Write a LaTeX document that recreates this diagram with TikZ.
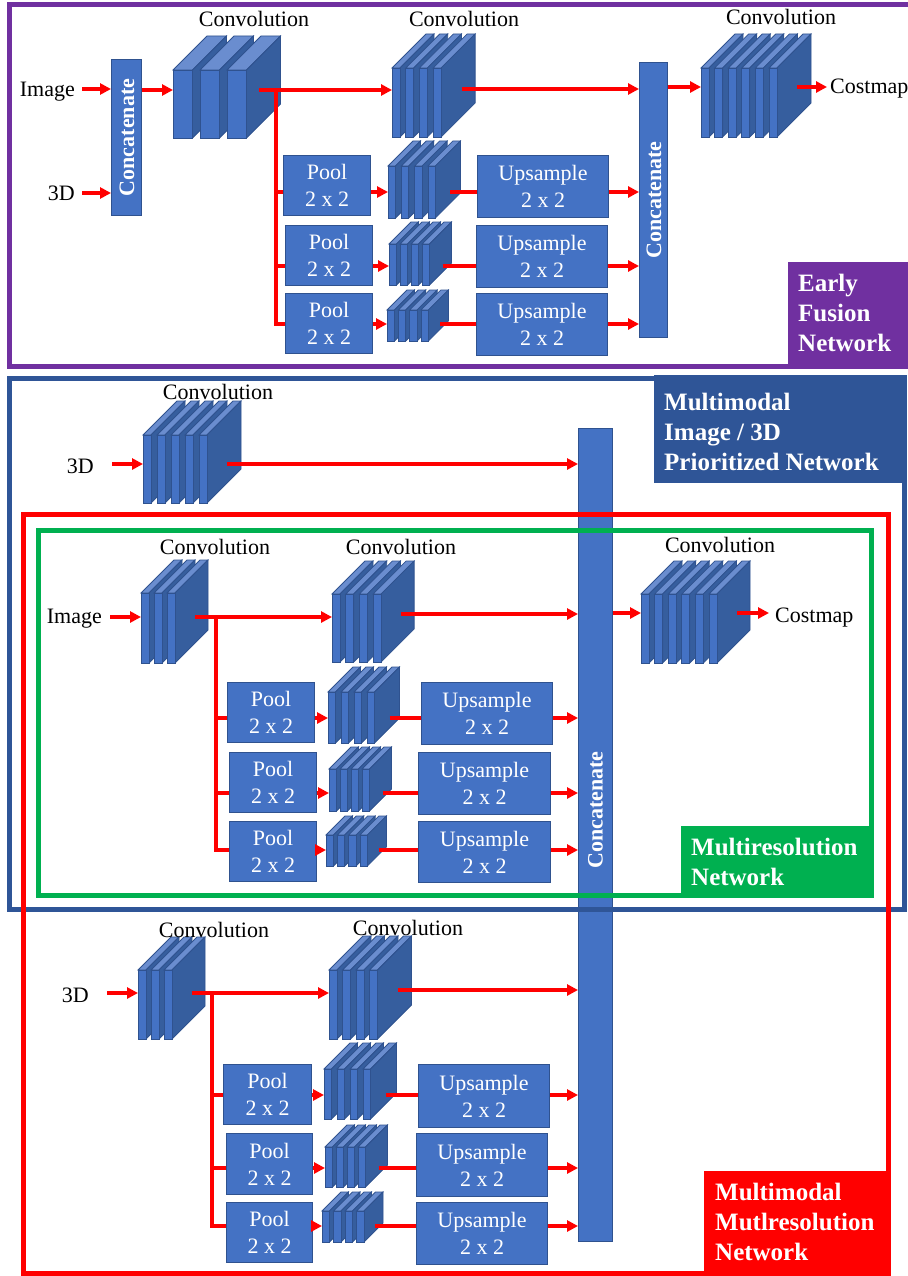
\documentclass[tikz,border=0pt]{standalone}
\usepackage{fontspec}
\setmainfont{Liberation Serif}
\usetikzlibrary{arrows.meta}

\definecolor{boxblue}{HTML}{4472C4}
\definecolor{boxedge}{HTML}{2F528F}
\definecolor{slabtopc}{HTML}{6A8DCF}
\definecolor{slabsidec}{HTML}{365E9E}
\definecolor{netblue}{HTML}{2F5597}
\definecolor{netpurple}{HTML}{7030A0}
\definecolor{netgreen}{HTML}{00B050}
\definecolor{netred}{HTML}{FF0000}

% A stack of feature-map slabs drawn in oblique projection.
% #1 name, #2 x of first front face, #3 top of front faces, #4 number of slabs,
% #5 slab width, #6 pitch, #7 slab height, #8 depth, #9 y of the in/out ports
\newcommand\convstack[9]{%
  \foreach \k in {1,...,#4}{%
    \pgfmathsetmacro\xa{#2+(\k-1)*#6}%
    \filldraw[slabtop] (\xa,#3) -- ++(#8,-#8) -- ++(#5,0) -- ++(-#8,#8) -- cycle;
    \filldraw[slabside] (\xa+#5,#3) -- ++(#8,-#8) -- ++(0,#7) -- ++(-#8,#8) -- cycle;
    \filldraw[slabfront] (\xa,#3) rectangle ++(#5,#7);
  }%
  \pgfmathsetmacro\xo{#2+(#4-1)*#6+#5+0.6*#8}%
  \coordinate (#1 in) at (#2,#9);
  \coordinate (#1 out) at (\xo,#9);
}

\begin{document}
\begin{tikzpicture}[x=1pt,y=-1pt,
  slabfront/.style={fill=boxblue,draw=boxedge,line width=0.8pt},
  slabtop/.style={fill=slabtopc,draw=boxedge,line width=0.8pt},
  slabside/.style={fill=slabsidec,draw=boxedge,line width=0.8pt},
  lab/.style={font=\fontsize{22}{27}\selectfont,inner sep=0pt,text height=15pt,text depth=0pt},
  opbox/.style={draw=boxedge,fill=boxblue,line width=1pt,text=white,align=center,
    inner sep=0pt,anchor=north west,font=\fontsize{22}{27}\selectfont},
  catbar/.style={draw=boxedge,fill=boxblue,line width=1pt,anchor=north west,inner sep=0pt},
  cattext/.style={text=white,font=\bfseries\fontsize{22}{27}\selectfont,rotate=90,
    inner sep=0pt,text height=15pt,text depth=0pt},
  netlabel/.style={text=white,font=\bfseries\fontsize{25}{30}\selectfont,align=left,
    anchor=north west,inner sep=0pt},
  frame/.style={line width=5pt},
  conn/.style={netred,line width=3.4pt},
  arr/.style={conn,-{Triangle[length=11pt,width=11pt]}}]

\useasboundingbox (0,0) rectangle (907,1276);
\fill[white] (0,0) rectangle (907,1276);

% shared concatenation bar of the lower networks
\node[catbar,minimum width=34,minimum height=813] (bigcat) at (578,428) {};
\node[cattext] (bigcattxt) at (595,810) {Concatenate};

% network frames
\draw[frame,netblue] (9.5,378) rectangle (904,909.5);
\draw[frame,netred] (23.5,514.5) rectangle (888,1273.5);
\draw[frame,netgreen] (38.5,530) rectangle (871.5,895.5);
\draw[frame,netpurple] (9.5,5) rectangle (915,366.5);

% network tags
\fill[netpurple] (788,262) rectangle (912,369);
\node[netlabel] (tagEF) at (798,274) {Early\\Fusion\\Network};
\fill[netblue] (654,375) rectangle (907,483);
\node[netlabel] (tagMP) at (664,393) {Multimodal\\Image / 3D\\Prioritized Network};
\fill[netgreen] (681,826) rectangle (874,898);
\node[netlabel] (tagMR) at (691,838) {Multiresolution\\Network};
\fill[netred] (704,1171) rectangle (891,1276);
\node[netlabel] (tagMM) at (715,1183) {Multimodal\\Mutlresolution\\Network};

% ---------------- early fusion network ----------------
\node[catbar,minimum width=30,minimum height=156] (cat1) at (111,59) {};
\node[cattext] at (cat1.center) {Concatenate};
\node[catbar,minimum width=28,minimum height=275] (cat2) at (639,62) {};
\node[cattext] at (cat2.center) {Concatenate};

\convstack{t1}{173}{70}{3}{19.5}{27}{68}{34}{90}
\convstack{t2}{392}{68}{4}{8}{13.7}{69}{34}{89}
\convstack{t3}{701}{68}{6}{8}{13.6}{69}{34}{87}
\convstack{ts1}{388}{166}{4}{7.5}{13.3}{52}{25}{192}
\convstack{ts2}{389}{244}{4}{7.5}{11}{41}{22}{266}
\convstack{ts3}{387}{310}{4}{7.5}{11.3}{31}{20}{324}
\coordinate (t1 out) at (259,90);

\node[lab] (ct1) at (254,19) {Convolution};
\node[lab] (ct2) at (464,19) {Convolution};
\node[lab] (ct3) at (781,17) {Convolution};

\node[opbox,minimum width=87,minimum height=60] (tp1) at (283,155) {Pool\\2 x 2};
\node[opbox,minimum width=87,minimum height=60] (tp2) at (285,225) {Pool\\2 x 2};
\node[opbox,minimum width=87,minimum height=60] (tp3) at (285,293) {Pool\\2 x 2};
\node[opbox,minimum width=131,minimum height=62] (tu1) at (477,155) {Upsample\\2 x 2};
\node[opbox,minimum width=131,minimum height=62] (tu2) at (476,225) {Upsample\\2 x 2};
\node[opbox,minimum width=131,minimum height=62] (tu3) at (476,293) {Upsample\\2 x 2};

\node[lab,anchor=east] (imgT) at (75,89) {Image};
\node[lab,anchor=east] (d3T) at (75,193) {3D};
\node[lab,anchor=west] (costT) at (830,86) {Costmap};

\draw[arr] ([xshift=7pt]imgT.east) -- (imgT.east -| cat1.west);
\draw[arr] ([xshift=7pt]d3T.east) -- (d3T.east -| cat1.west);
\draw[arr] (cat1.east |- t1 in) -- (t1 in);
\draw[arr] (t1 out) -- (t1 out -| t2 in);
\coordinate (tb) at (276,90);
\draw[conn] (tb) |- (tp3.west |- ts3 in);
\draw[conn] (tb |- ts1 in) -- (tp1.west |- ts1 in);
\draw[conn] (tb |- ts2 in) -- (tp2.west |- ts2 in);
\draw[arr] (tp1.east |- ts1 in) -- (ts1 in);
\draw[arr] (tp2.east |- ts2 in) -- (ts2 in);
\draw[arr] (tp3.east |- ts3 in) -- (ts3 in);
\draw[conn] (ts1 out) -- (ts1 out -| tu1.west);
\draw[conn] (ts2 out) -- (ts2 out -| tu2.west);
\draw[conn] (ts3 out) -- (ts3 out -| tu3.west);
\draw[arr] (tu1.east |- ts1 out) -- (cat2.west |- ts1 out);
\draw[arr] (tu2.east |- ts2 out) -- (cat2.west |- ts2 out);
\draw[arr] (tu3.east |- ts3 out) -- (cat2.west |- ts3 out);
\draw[arr] (t2 out) -- (t2 out -| cat2.west);
\draw[arr] (cat2.east |- t3 in) -- (t3 in);
\draw[arr] (t3 out) -- ([xshift=-3pt]costT.west |- t3 out);

% ---------------- 3D branch of the prioritized network ----------------
\convstack{m0}{143}{435}{5}{8}{14}{68}{34}{464}
\node[lab] (cm0) at (218,392) {Convolution};
\node[lab,anchor=east] (d3M) at (94,466) {3D};
\draw[arr] ([xshift=-31pt]m0 in) -- (m0 in);
\draw[arr] (m0 out) -- (m0 out -| bigcat.west);

% ---------------- image multiresolution branch ----------------
\convstack{mA}{141}{593}{3}{8}{13}{70}{33}{617}
\convstack{mB}{332}{594}{4}{8}{13.7}{68}{33}{614}
\convstack{mC}{641}{594}{6}{8}{13.6}{69}{33}{613}
\convstack{ms1}{328}{692}{4}{7.5}{13}{51}{25}{718}
\convstack{ms2}{329}{769}{4}{7.5}{11}{42}{22}{793}
\convstack{ms3}{326}{835}{4}{7.5}{11.3}{31}{19}{850}

\node[lab] (cmA) at (215,547) {Convolution};
\node[lab] (cmB) at (401,547) {Convolution};
\node[lab] (cmC) at (720,545) {Convolution};

\node[opbox,minimum width=87,minimum height=60] (mp1) at (227,682) {Pool\\2 x 2};
\node[opbox,minimum width=87,minimum height=60] (mp2) at (229,752) {Pool\\2 x 2};
\node[opbox,minimum width=87,minimum height=60] (mp3) at (229,821) {Pool\\2 x 2};
\node[opbox,minimum width=131,minimum height=62] (mu1) at (421,682) {Upsample\\2 x 2};
\node[opbox,minimum width=132,minimum height=62] (mu2) at (418,752) {Upsample\\2 x 2};
\node[opbox,minimum width=132,minimum height=61] (mu3) at (418,821) {Upsample\\2 x 2};

\node[lab,anchor=east] (imgM) at (102,616) {Image};
\node[lab,anchor=west] (costM) at (775,615) {Costmap};

\draw[arr] ([xshift=-31pt]mA in) -- (mA in);
\draw[arr] (mA out) -- (mA out -| mB in);
\coordinate (mb) at (216,617);
\draw[conn] (mb) |- (mp3.west |- ms3 in);
\draw[conn] (mb |- ms1 in) -- (mp1.west |- ms1 in);
\draw[conn] (mb |- ms2 in) -- (mp2.west |- ms2 in);
\draw[arr] (mp1.east |- ms1 in) -- (ms1 in);
\draw[arr] (mp2.east |- ms2 in) -- (ms2 in);
\draw[arr] (mp3.east |- ms3 in) -- (ms3 in);
\draw[conn] (ms1 out) -- (ms1 out -| mu1.west);
\draw[conn] (ms2 out) -- (ms2 out -| mu2.west);
\draw[conn] (ms3 out) -- (ms3 out -| mu3.west);
\draw[arr] (mu1.east |- ms1 out) -- (bigcat.west |- ms1 out);
\draw[arr] (mu2.east |- ms2 out) -- (bigcat.west |- ms2 out);
\draw[arr] (mu3.east |- ms3 out) -- (bigcat.west |- ms3 out);
\draw[arr] (mB out) -- (mB out -| bigcat.west);
\draw[arr] (bigcat.east |- mC in) -- (mC in);
\draw[arr] (mC out) -- ([xshift=-6pt]costM.west |- mC out);

% ---------------- 3D multiresolution branch ----------------
\convstack{bD}{138}{970}{3}{8}{13}{69}{33}{993}
\convstack{bE}{329}{970}{4}{8}{13.5}{69}{34}{990}
\convstack{bs1}{324}{1069}{4}{7.5}{13}{50}{26}{1095}
\convstack{bs2}{325}{1147}{4}{7.5}{11}{40}{22}{1168}
\convstack{bs3}{322}{1211}{4}{7.5}{11.5}{31}{19}{1226}

\node[lab] (cbD) at (214,930) {Convolution};
\node[lab] (cbE) at (408,928) {Convolution};

\node[opbox,minimum width=88,minimum height=60] (bp1) at (223,1064) {Pool\\2 x 2};
\node[opbox,minimum width=86,minimum height=61] (bp2) at (226,1133) {Pool\\2 x 2};
\node[opbox,minimum width=86,minimum height=60] (bp3) at (226,1202) {Pool\\2 x 2};
\node[opbox,minimum width=131,minimum height=63] (bu1) at (418,1064) {Upsample\\2 x 2};
\node[opbox,minimum width=131,minimum height=63] (bu2) at (416,1133) {Upsample\\2 x 2};
\node[opbox,minimum width=131,minimum height=62] (bu3) at (416,1202) {Upsample\\2 x 2};

\node[lab,anchor=east] (d3B) at (89,995) {3D};

\draw[arr] ([xshift=-31pt]bD in) -- (bD in);
\draw[arr] (bD out) -- (bD out -| bE in);
\coordinate (bb) at (212,993);
\draw[conn] (bb) |- (bp3.west |- bs3 in);
\draw[conn] (bb |- bs1 in) -- (bp1.west |- bs1 in);
\draw[conn] (bb |- bs2 in) -- (bp2.west |- bs2 in);
\draw[arr] (bp1.east |- bs1 in) -- (bs1 in);
\draw[arr] (bp2.east |- bs2 in) -- (bs2 in);
\draw[arr] (bp3.east |- bs3 in) -- (bs3 in);
\draw[conn] (bs1 out) -- (bs1 out -| bu1.west);
\draw[conn] (bs2 out) -- (bs2 out -| bu2.west);
\draw[conn] (bs3 out) -- (bs3 out -| bu3.west);
\draw[arr] (bu1.east |- bs1 out) -- (bigcat.west |- bs1 out);
\draw[arr] (bu2.east |- bs2 out) -- (bigcat.west |- bs2 out);
\draw[arr] (bu3.east |- bs3 out) -- (bigcat.west |- bs3 out);
\draw[arr] (bE out) -- (bE out -| bigcat.west);

\end{tikzpicture}
\end{document}
